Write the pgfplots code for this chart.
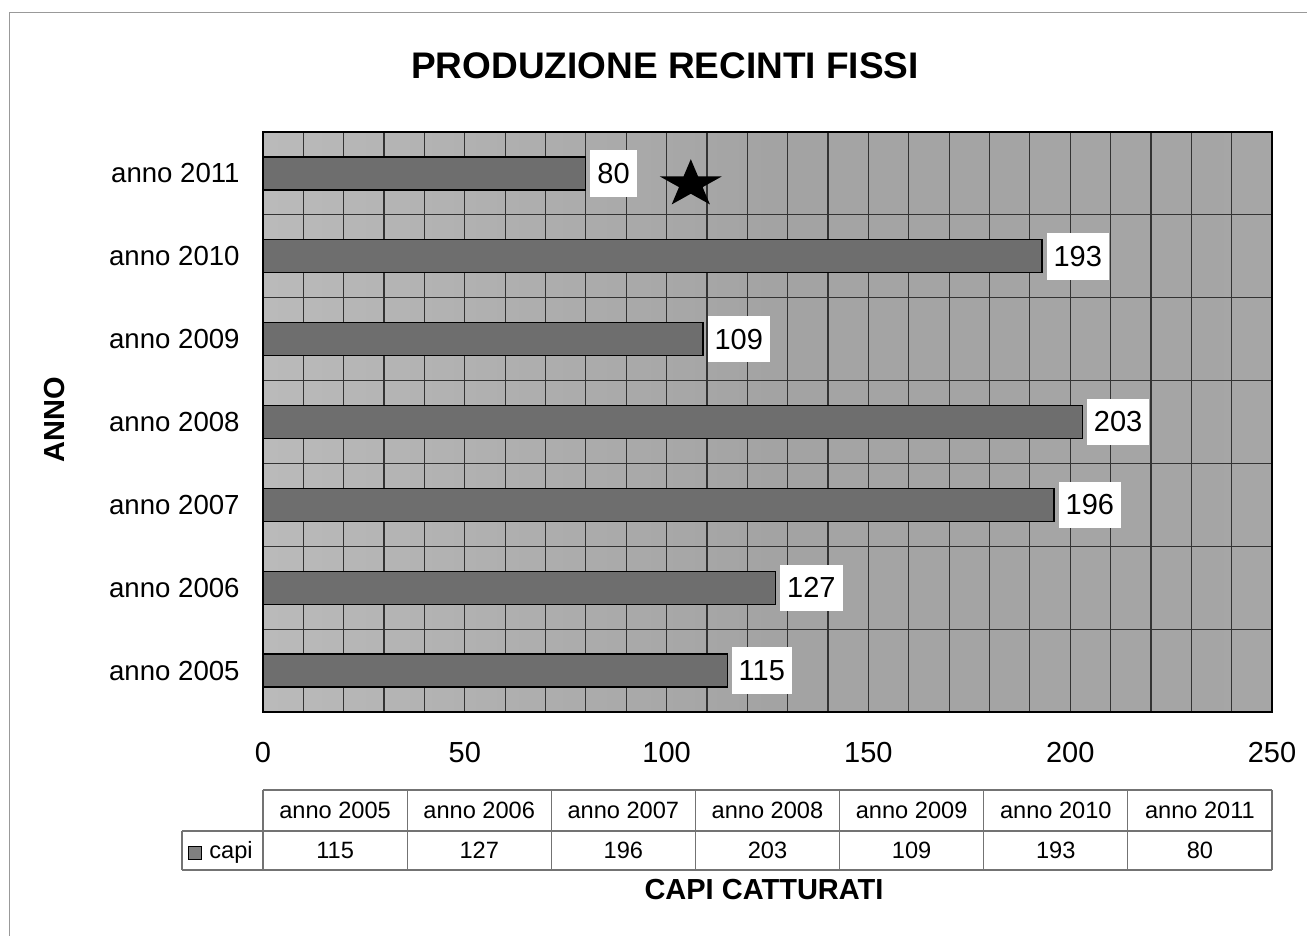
\documentclass[border=0pt]{standalone}
\usepackage{pgfplots}
\pgfplotsset{compat=1.18}
\usepackage{fontspec}
\setmainfont{Liberation Sans}

\pgfdeclareplotmark{fstar}{%
  \pgfpathmoveto{\pgfqpoint{0pt}{12.5pt}}%
  \pgfpathlineto{\pgfqpoint{-3.65pt}{3.86pt}}%
  \pgfpathlineto{\pgfqpoint{-15.45pt}{3.86pt}}%
  \pgfpathlineto{\pgfqpoint{-5.9pt}{-1.475pt}}%
  \pgfpathlineto{\pgfqpoint{-9.56pt}{-10.11pt}}%
  \pgfpathlineto{\pgfqpoint{0pt}{-4.775pt}}%
  \pgfpathlineto{\pgfqpoint{9.56pt}{-10.11pt}}%
  \pgfpathlineto{\pgfqpoint{5.9pt}{-1.475pt}}%
  \pgfpathlineto{\pgfqpoint{15.45pt}{3.86pt}}%
  \pgfpathlineto{\pgfqpoint{3.65pt}{3.86pt}}%
  \pgfpathclose
  \pgfusepathqfill}

\begin{document}
\begin{tikzpicture}
\path[use as bounding box] (-131.5pt,-112pt) rectangle (522pt,356pt);
% frame
\draw[black!40, line width=0.5pt] (-126.5pt,-112pt) -- (-126.5pt,349.5pt) -- (522pt,349.5pt);
\begin{axis}[
  at={(0pt,0pt)}, anchor=south west,
  scale only axis, width=504.5pt, height=290pt,
  bar width=16.5pt,
  xmin=0, xmax=250, ymin=-0.5, ymax=6.5,
  xtick={0,50,...,250},
  minor x tick num=4,
  ytick={0,...,6},
  yticklabels={anno 2005\hspace{4pt},anno 2006,anno 2007,anno 2008,anno 2009,anno 2010,anno 2011},
  minor ytick={-0.5,0.5,...,6.5},
  xmajorgrids, xminorgrids, yminorgrids,
  major grid style={black!80, line width=0.6pt},
  minor grid style={black!80, line width=0.6pt},
  major tick length=0pt, minor tick length=0pt,
  axis line style={black, line width=0.8pt},
  axis background/.style={left color=black!27, right color=black!35, middle color=black!36},
  /pgf/number format/assume math mode=true,
  xticklabel style={font=\fontsize{14.5}{17}\selectfont, inner sep=0pt, yshift=-15pt},
  yticklabel style={font=\fontsize{13.8}{16}\selectfont, inner sep=0pt, xshift=-11.5pt},
  clip=false,
]
\addplot[xbar, fill=black!57, draw=black, line width=0.6pt,
  nodes near coords,
  every node near coord/.append style={fill=white, text=black, anchor=west,
    inner xsep=3.5pt, inner ysep=6.5pt, xshift=2pt,
    font=\fontsize{14.5}{17}\selectfont}]
  coordinates {(115,0) (127,1) (196,2) (203,3) (109,4) (193,5) (80,6)};
\addplot[only marks, mark=fstar, black, mark options={fill=black}] coordinates {(106,5.87)};
\end{axis}
% title and labels
\node[font=\bfseries\fontsize{18.5}{22}\selectfont] at (201pt,323pt) {PRODUZIONE RECINTI FISSI};
\node[font=\bfseries\fontsize{14.5}{17}\selectfont, rotate=90] at (-104pt,146pt) {ANNO};
\node[font=\bfseries\fontsize{14.5}{17}\selectfont] at (250.5pt,-89pt) {CAPI CATTURATI};
% data table
\begin{scope}[font=\fontsize{11.8}{14}\selectfont]
\draw[black!55, line width=0.6pt] (0pt,-39pt) -- (504.5pt,-39pt);
\draw[black!55, line width=0.6pt] (-40.5pt,-59.5pt) -- (504.5pt,-59.5pt);
\draw[black!55, line width=0.6pt] (-40.5pt,-79pt) -- (504.5pt,-79pt);
\draw[black!55, line width=0.6pt] (-40.5pt,-59.5pt) -- (-40.5pt,-79pt);
\foreach \k in {0,...,7} \draw[black!55, line width=0.6pt] ({\k*72.0714pt},-39pt) -- ({\k*72.0714pt},-79pt);
\foreach \lab [count=\k from 0] in {anno 2005,anno 2006,anno 2007,anno 2008,anno 2009,anno 2010,anno 2011}
  \node at ({(\k+0.5)*72.0714pt},-49.25pt) {\lab};
\foreach \v [count=\k from 0] in {115,127,196,203,109,193,80}
  \node at ({(\k+0.5)*72.0714pt},-69.25pt) {\v};
\draw[black, fill=black!50, line width=0.5pt] (-37.25pt,-74pt) rectangle (-30.75pt,-67.5pt);
\node[anchor=base west, inner sep=0pt] at (-27pt,-73.5pt) {capi};
\end{scope}
\end{tikzpicture}
\end{document}
